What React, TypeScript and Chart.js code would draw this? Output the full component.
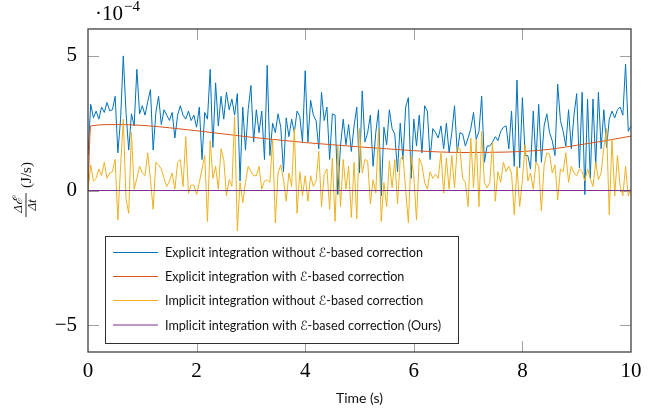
import React, { useEffect, useRef } from "react";
import { Chart, registerables } from "chart.js";

Chart.register(...registerables);

// ---- data (values in units of 1e-4 J/s) ----
const TIME_STEP = 0.05;

const explicitNoCorrection = [
  1.3, 3.2, 2.7, 2.95, 2.65, 3.1, 2.9, 3.27, 2.96, 3.0,
  3.5, 1.4, 2.65, 5.0, 2.9, 1.5, 2.85, 2.4, 4.5, 2.85,
  3.15, 2.8, 3.3, 3.75, 1.5, 2.9, 3.5, 2.45, 3.0, 2.8,
  2.6, 2.9, 1.95, 2.8, 3.15, 2.8, 2.65, 2.95, 2.6, 2.8,
  2.35, 3.1, 1.15, 2.9, 2.65, 4.5, 1.6, 4.0, 2.4, 3.5,
  2.65, 3.65, 3.0, 3.4, 2.8, 3.6, 0.35, 3.1, 1.5, 3.0,
  3.9, 1.8, 3.0, 2.15, 2.95, 1.15, 4.65, 1.3, 2.5, 2.15,
  2.85, 2.35, 0.7, 2.7, 2.0, 2.65, 2.15, 2.95, 2.75, 1.8,
  4.45, 1.8, 3.35, 2.8, 2.6, 1.55, 3.65, 2.6, 3.1, 1.15,
  2.85, 2.8, -0.15, 1.65, 2.65, 1.7, 2.45, 1.45, 2.4, 3.1,
  0.65, 3.7, 1.8, 2.15, 2.8, 0.9, 2.15, 3.0, -0.2, 2.35,
  1.7, 3.0, 2.3, 2.1, 0.7, 2.5, 1.15, 3.1, 3.45, 0.45,
  2.65, 1.65, 2.8, 1.4, 3.15, 2.95, 1.15, 2.3, 2.15, 1.95,
  2.4, 1.55, 2.5, 1.4, 2.15, 3.15, 1.4, 2.15, 2.1, 1.65,
  1.95, 2.3, 2.9, 1.9, 2.2, 3.5, 1.05, 1.65, 1.65, 1.8,
  2.0, 1.85, 2.2, 2.35, 2.4, 1.55, 2.95, 0.9, 4.1, 0.85,
  3.45, 1.3, 1.3, 0.8, 2.95, 1.05, 3.2, 1.05, 2.4, 2.85,
  2.15, 1.85, 1.3, 3.95, 2.6, 2.2, 1.65, 3.0, 1.55, 2.8,
  3.6, 0.85, 3.65, -0.15, 3.4, 0.45, 3.4, 0.9, 3.65, 1.55,
  3.0, 1.6, 2.65, 2.95, 2.7, 3.0, 3.1, 2.8, 4.7, 2.2,
  2.4,
];

const implicitNoCorrection = [
  0, 0.95, 0.35, 0.45, 0.8, 0.55, 1.05, 0.45, 0.65, 0.7,
  1.15, -1.1, 0.9, 2.65, -0.3, -0.85, 2.15, 0.05, 0.45, 0.9,
  0.65, 0.55, 1.4, 0.4, -0.7, 1.05, 0.95, 0.8, 0.45, 0.15,
  0.35, 0.65, 0.05, 1.05, 1.15, 0.15, 2.0, -0.1, 0.2, 0.2,
  -0.15, 0.3, 0.8, 1.3, -1.15, 1.85, 0.45, 0.9, 0.05, 1.55,
  1.15, -0.2, 0.4, 0.15, 2.75, -1.5, 0.3, -0.45, 0.3, 0.9,
  0.7, 0.55, 0.55, 0.9, 0.05, 0.35, 0.4, 0.3, 1.9, -1.2,
  0.65, 0.95, 0.4, -0.4, 0.65, 0.15, 2.3, -0.85, 0.7, -0.2,
  0.55, -0.4, 0.55, 0.15, 0.35, 1.45, -0.6, 0.6, 0.8, -0.7,
  1.2, -1.15, 1.65, -0.6, 1.15, 0.05, 0.9, -1.0, 1.05, -1.05,
  2.3, 0.65, 1.15, 1.1, -0.5, 0.4, -0.1, 2.3, -1.15, 0.3,
  -0.6, 1.1, 0.1, 1.15, -0.5, 1.15, 1.3, 0.05, -1.2, 1.3,
  0.55, -1.1, 1.2, 0.95, 0.3, 0.05, 0.7, 0.45, 0.6, 0.45,
  1.4, -0.1, 1.2, 0.05, 1.3, 0.1, 1.6, 1.55, 0.45, 0.3,
  -0.6, 1.95, 0.1, 1.9, -0.6, 2.2, 0.3, 0.1, 0.3, 1.8,
  -0.4, 0.7, 0.3, 1.05, 0.7, 0.9, 0.65, -0.9, 0.9, -0.6,
  0.4, 1.7, 0.35, 0.65, 0.05, 1.05, 0.9, -0.75, 0.95, 1.4,
  1.35, 0.65, 0.95, -0.35, 0.8, 0.7, 1.4, 0.3, 0.9, 0.65,
  0.55, 0.8, 0.7, 0.35, 0.8, 0.45, 0.15, 1.05, 0.4, 0.65,
  1.6, 2.3, -0.9, 1.9, -0.2, 1.3, 0.15, -0.2, 0.9, -0.2,
  0.05,
];

const explicitCorrectionTime = [0, 0.05, 0.5, 1, 1.5, 2, 2.5, 3, 3.5, 4, 4.5, 5, 5.5, 6, 6.5, 7, 7.5, 8, 8.5, 9, 9.5, 10];
const explicitCorrection = [0, 2.4, 2.45, 2.42, 2.33, 2.22, 2.1, 1.98, 1.88, 1.78, 1.7, 1.62, 1.55, 1.48, 1.43, 1.41, 1.42, 1.45, 1.53, 1.68, 1.84, 2.02];

const implicitCorrectionTime = [0, 2, 4, 6, 8, 10];
const implicitCorrection = [0, 0, 0, 0, 0, 0];

const xTickValues = [0, 2, 4, 6, 8, 10];
const yTickValues = [-5, 0, 5];

const legendLabels = [
  "Explicit integration without \u2130-based correction",
  "Explicit integration with \u2130-based correction",
  "Implicit integration without \u2130-based correction",
  "Implicit integration with \u2130-based correction (Ours)",
];
const seriesColors = ["#0072BD", "#D95319", "#EDB120", "#7E2F8E"];

const toPoints = (xs: number[], ys: number[]) => ys.map((y, i) => ({ x: xs[i], y }));
const timeGrid = (n: number) => Array.from({ length: n }, (_, i) => +(i * TIME_STEP).toFixed(2));

const SERIF = "'Liberation Serif', 'DejaVu Serif', serif";
const SANS = "'Lato', 'Open Sans', 'DejaVu Sans', sans-serif";

const decorPlugin = {
  id: "decor",
  beforeDatasetsDraw(chart: any) {
    const { ctx, chartArea: a, scales } = chart;
    ctx.save();
    ctx.strokeStyle = "#a0a0a0";
    ctx.lineWidth = 1;
    const tl = 11;
    xTickValues.forEach((v) => {
      if (v === 0 || v === 10) return;
      const px = Math.round(scales.x.getPixelForValue(v)) + 0.5;
      ctx.beginPath();
      ctx.moveTo(px, a.bottom);
      ctx.lineTo(px, a.bottom - tl);
      ctx.moveTo(px, a.top);
      ctx.lineTo(px, a.top + tl);
      ctx.stroke();
    });
    yTickValues.forEach((v) => {
      const py = Math.round(scales.y.getPixelForValue(v)) + 0.5;
      ctx.beginPath();
      ctx.moveTo(a.left, py);
      ctx.lineTo(a.left + tl, py);
      ctx.moveTo(a.right, py);
      ctx.lineTo(a.right - tl, py);
      ctx.stroke();
    });
    ctx.restore();
  },
  afterDatasetsDraw(chart: any) {
    const { ctx, chartArea: a } = chart;
    ctx.save();
    // frame
    ctx.strokeStyle = "#404040";
    ctx.lineWidth = 1.3;
    ctx.strokeRect(a.left, a.top, a.right - a.left, a.bottom - a.top);

    // legend
    const bx = 105.5, by = 236, bw = 353, bh = 107;
    ctx.fillStyle = "#ffffff";
    ctx.fillRect(bx, by, bw, bh);
    ctx.strokeStyle = "#303030";
    ctx.lineWidth = 1;
    ctx.strokeRect(bx, by + 0.5, bw, bh);
    ctx.font = `12px ${SANS}`;
    const w0 = ctx.measureText(legendLabels[0]).width;
    const fs = 12 * (258 / w0);
    ctx.font = `${fs.toFixed(2)}px ${SANS}`;
    ctx.textBaseline = "middle";
    ctx.textAlign = "left";
    const rows = [252.5, 276.5, 300.5, 325];
    legendLabels.forEach((lab, i) => {
      ctx.strokeStyle = seriesColors[i];
      ctx.lineWidth = 1;
      ctx.beginPath();
      ctx.moveTo(113, rows[i]);
      ctx.lineTo(158, rows[i]);
      ctx.stroke();
      ctx.fillStyle = "#111";
      ctx.fillText(lab, 165, rows[i] + 0.5);
    });

    // x-axis title
    ctx.font = `14px ${SANS}`;
    ctx.textAlign = "center";
    ctx.fillStyle = "#111";
    ctx.fillText("Time (s)", (a.left + a.right) / 2, 398);

    // exponent label
    ctx.textAlign = "left";
    ctx.textBaseline = "alphabetic";
    ctx.fillStyle = "#000";
    ctx.font = `21px ${SERIF}`;
    ctx.fillText("\u00B710", 95, 20);
    const w10 = ctx.measureText("\u00B710").width;
    ctx.font = `15px ${SERIF}`;
    ctx.fillText("\u22124", 95 + w10 + 1, 11);

    // y-axis title (rotated fraction)
    ctx.translate(26, 191);
    ctx.rotate(-Math.PI / 2);
    ctx.textAlign = "center";
    ctx.textBaseline = "middle";
    ctx.fillStyle = "#111";
    ctx.font = `italic 13px ${SERIF}`;
    const fx = -14;
    ctx.fillText("\u0394\u2130", fx, -7);
    ctx.fillText("\u0394t", fx, 7);
    ctx.strokeStyle = "#111";
    ctx.lineWidth = 0.9;
    ctx.beginPath();
    ctx.moveTo(fx - 12, 0);
    ctx.lineTo(fx + 12, 0);
    ctx.stroke();
    ctx.font = `15px ${SERIF}`;
    ctx.fillText("(J/s)", 16, 1);
    ctx.restore();
  },
};

export default function App() {
  const canvasRef = useRef<HTMLCanvasElement | null>(null);

  useEffect(() => {
    if (!canvasRef.current) return;
    const chart = new Chart(canvasRef.current, {
      type: "line",
      data: {
        datasets: [
          {
            label: legendLabels[0],
            data: toPoints(timeGrid(explicitNoCorrection.length), explicitNoCorrection),
            borderColor: seriesColors[0],
            borderWidth: 1,
            pointRadius: 0,
            order: 4,
          },
          {
            label: legendLabels[1],
            data: toPoints(explicitCorrectionTime, explicitCorrection),
            borderColor: seriesColors[1],
            borderWidth: 1,
            pointRadius: 0,
            cubicInterpolationMode: "monotone",
            order: 3,
          },
          {
            label: legendLabels[2],
            data: toPoints(timeGrid(implicitNoCorrection.length), implicitNoCorrection),
            borderColor: seriesColors[2],
            borderWidth: 1,
            pointRadius: 0,
            order: 2,
          },
          {
            label: legendLabels[3],
            data: toPoints(implicitCorrectionTime, implicitCorrection),
            borderColor: seriesColors[3],
            borderWidth: 1.2,
            pointRadius: 0,
            order: 1,
          },
        ],
      },
      options: {
        animation: false,
        responsive: true,
        maintainAspectRatio: false,
        layout: { padding: { left: 0, right: 32, top: 29, bottom: 0 } },
        plugins: { legend: { display: false }, tooltip: { enabled: false } },
        scales: {
          x: {
            type: "linear",
            min: 0,
            max: 10,
            grid: { display: false },
            border: { display: false },
            afterBuildTicks: (s: any) => {
              s.ticks = xTickValues.map((v) => ({ value: v }));
            },
            afterFit: (s: any) => {
              s.height = 62;
            },
            ticks: {
              color: "#000",
              padding: -1,
              maxRotation: 0,
              font: { family: SERIF, size: 21 },
              callback: (v: any) => String(v),
            },
          },
          y: {
            type: "linear",
            min: -6,
            max: 6,
            grid: { display: false },
            border: { display: false },
            afterBuildTicks: (s: any) => {
              s.ticks = yTickValues.map((v) => ({ value: v }));
            },
            afterFit: (s: any) => {
              s.width = 88;
            },
            ticks: {
              color: "#000",
              padding: 3,
              font: { family: SERIF, size: 21 },
              callback: (v: any) => (v < 0 ? "\u2212" + Math.abs(v) : String(v)),
            },
          },
        },
      },
      plugins: [decorPlugin],
    });
    return () => chart.destroy();
  }, []);

  return (
    <div style={{ position: "fixed", left: 0, top: 0, width: 663, height: 414, background: "#fff" }}>
      <canvas ref={canvasRef} />
    </div>
  );
}
